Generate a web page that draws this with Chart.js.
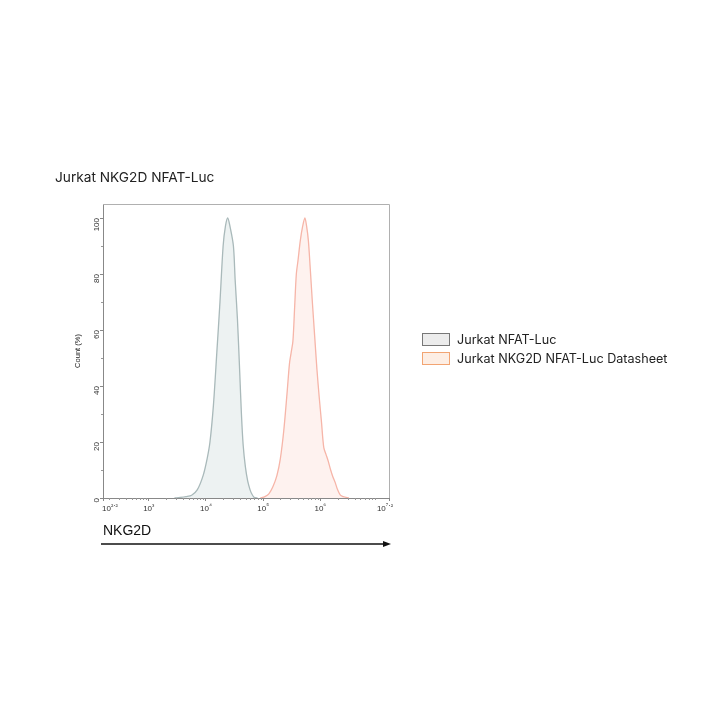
<!DOCTYPE html>
<html>
<head>
<meta charset="utf-8">
<script src="https://cdn.jsdelivr.net/npm/chart.js@4"></script>
<style>
  html, body { margin: 0; padding: 0; background: #fff; }
  #wrap { width: 720px; height: 720px; position: relative; }
</style>
</head>
<body>
<div id="wrap"><canvas id="chart" width="720" height="720"></canvas></div>
<script>
// x values are log10 of fluorescence, y values are Count (%)
const grayX = [3.45, 3.55, 3.65, 3.75, 3.85, 3.95, 4.02, 4.07, 4.13, 4.19, 4.245, 4.30, 4.34, 4.38, 4.42, 4.48, 4.51, 4.55, 4.59, 4.62, 4.65, 4.69, 4.73, 4.77, 4.80, 4.84, 4.90];
const grayY = [0, 0.2, 0.5, 1, 3, 8, 14, 20, 33, 52, 70, 90, 97, 100, 97, 90, 78, 64, 45, 30, 19, 11, 6, 3, 1.5, 0.3, 0];

const pinkX = [4.95, 5.03, 5.10, 5.17, 5.24, 5.30, 5.36, 5.42, 5.46, 5.49, 5.52, 5.55, 5.58, 5.61, 5.65, 5.69, 5.73, 5.76, 5.79, 5.82, 5.86, 5.90, 5.94, 5.98, 6.02, 6.06, 6.10, 6.14, 6.18, 6.22, 6.26, 6.30, 6.35, 6.40, 6.50];
const pinkY = [0, 0.5, 1.5, 4, 8, 14, 24, 38, 48, 52, 56, 68, 80, 85, 92, 97, 100, 97, 92, 83, 70, 58, 46, 36, 27, 18, 15.5, 13, 10, 7.5, 5.5, 3, 1, 0.5, 0];

const xTicks = [2.2, 3, 4, 5, 6, 7.2];
const yTicks = [0, 20, 40, 60, 80, 100];
const seriesNames = ['Jurkat NFAT-Luc', 'Jurkat NKG2D NFAT-Luc Datasheet'];

const toPoints = (xs, ys) => xs.map((x, i) => ({ x, y: ys[i] }));

const sup = { '0':'⁰','1':'¹','2':'²','3':'³','4':'⁴','5':'⁵','6':'⁶','7':'⁷','8':'⁸','9':'⁹' };
const axisFont = '"Liberation Sans", Arial, sans-serif';

const decorations = {
  id: 'decorations',
  afterDraw(chart) {
    const { ctx, chartArea: a, scales: { x, y } } = chart;
    ctx.save();

    // top / right frame
    ctx.strokeStyle = '#b0b0b0';
    ctx.lineWidth = 1;
    ctx.beginPath();
    ctx.moveTo(a.left, a.top + 0.5);
    ctx.lineTo(a.right + 0.5, a.top + 0.5);
    ctx.lineTo(a.right + 0.5, a.bottom);
    ctx.stroke();

    // minor ticks
    ctx.strokeStyle = '#999';
    ctx.beginPath();
    for (let k = 2; k <= 7; k++) {
      for (let m = 2; m <= 9; m++) {
        const v = k + Math.log10(m);
        if (v <= 2.2 || v >= 7.2) continue;
        const px = Math.round(x.getPixelForValue(v)) + 0.5;
        ctx.moveTo(px, a.bottom);
        ctx.lineTo(px, a.bottom + 2);
      }
    }
    for (let v = 10; v < 105; v += 20) {
      const py = Math.round(y.getPixelForValue(v)) + 0.5;
      ctx.moveTo(a.left, py);
      ctx.lineTo(a.left - 2, py);
    }
    ctx.stroke();

    // x tick labels 10^k
    ctx.fillStyle = '#333';
    ctx.textBaseline = 'alphabetic';
    xTicks.forEach((v, i) => {
      const px = x.getPixelForValue(v);
      const exp = String(v).split('').map(c => sup[c] || '·').join('');
      ctx.font = '8px ' + axisFont;
      const w1 = ctx.measureText('10').width;
      ctx.font = '7px ' + axisFont;
      const w2 = ctx.measureText(exp).width;
      let left = px - (w1 + w2) / 2;
      if (i === 0) left = px - 1;
      if (i === xTicks.length - 1) left = px - (w1 + w2) + 4;
      ctx.font = '8px ' + axisFont;
      ctx.fillText('10', left, a.bottom + 13);
      ctx.font = '7px ' + axisFont;
      ctx.fillText(exp, left + w1, a.bottom + 10);
    });

    // title
    ctx.fillStyle = '#222';
    ctx.font = '13.7px Inter, "Open Sans", sans-serif';
    ctx.fillText('Jurkat NKG2D NFAT-Luc', 55, 182);

    // NKG2D label and arrow
    ctx.font = '14px ' + axisFont;
    ctx.fillStyle = '#111';
    ctx.fillText('NKG2D', 103, 535);
    ctx.strokeStyle = '#111';
    ctx.lineWidth = 1.5;
    ctx.beginPath();
    ctx.moveTo(101, 544);
    ctx.lineTo(385, 544);
    ctx.stroke();
    ctx.beginPath();
    ctx.moveTo(391, 544);
    ctx.lineTo(383, 541);
    ctx.lineTo(383, 547);
    ctx.closePath();
    ctx.fillStyle = '#111';
    ctx.fill();

    // legend
    const items = [
      { fill: '#ececec', stroke: '#777', y: 333 },
      { fill: '#fdeee4', stroke: '#f2a472', y: 352 },
    ];
    ctx.lineWidth = 1;
    items.forEach((it, i) => {
      ctx.fillStyle = it.fill;
      ctx.fillRect(422, it.y, 27, 12);
      ctx.strokeStyle = it.stroke;
      ctx.strokeRect(422.5, it.y + 0.5, 27, 12);
      ctx.fillStyle = '#222';
      ctx.font = '12.6px Inter, "Open Sans", sans-serif';
      ctx.fillText(seriesNames[i], 457, it.y + 11);
    });

    ctx.restore();
  }
};

new Chart(document.getElementById('chart'), {
  type: 'scatter',
  data: {
    datasets: [
      {
        label: seriesNames[0],
        data: toPoints(grayX, grayY),
        showLine: true,
        fill: 'origin',
        borderColor: '#a9b9ba',
        backgroundColor: 'rgba(228,235,235,0.65)',
        borderWidth: 1.3,
        pointRadius: 0,
        tension: 0.3,
      },
      {
        label: seriesNames[1],
        data: toPoints(pinkX, pinkY),
        showLine: true,
        fill: 'origin',
        borderColor: '#f6b5a8',
        backgroundColor: 'rgba(253,236,232,0.7)',
        borderWidth: 1.3,
        pointRadius: 0,
        tension: 0.3,
      },
    ],
  },
  options: {
    responsive: false,
    animation: false,
    layout: { padding: { left: 73, top: 204, right: 331, bottom: 202 } },
    plugins: { legend: { display: false }, tooltip: { enabled: false } },
    scales: {
      x: {
        type: 'linear',
        min: 2.2,
        max: 7.2,
        afterBuildTicks: s => { s.ticks = xTicks.map(v => ({ value: v })); },
        afterFit: s => { s.height = 20; },
        grid: { drawOnChartArea: false, drawTicks: true, tickLength: 3, color: '#888' },
        border: { display: true, color: '#888', width: 1 },
        ticks: { display: false },
      },
      y: {
        min: 0,
        max: 105,
        afterBuildTicks: s => { s.ticks = yTicks.map(v => ({ value: v })); },
        afterFit: s => { s.width = 30; },
        grid: { drawOnChartArea: false, drawTicks: true, tickLength: 3, color: '#888' },
        border: { display: true, color: '#888', width: 1 },
        ticks: {
          minRotation: 90,
          maxRotation: 90,
          padding: 3,
          color: '#333',
          font: { size: 8, family: axisFont },
        },
        title: {
          display: true,
          text: 'Count (%)',
          color: '#222',
          padding: 0,
          font: { size: 7.5, family: axisFont },
        },
      },
    },
  },
  plugins: [decorations],
});
</script>
</body>
</html>
